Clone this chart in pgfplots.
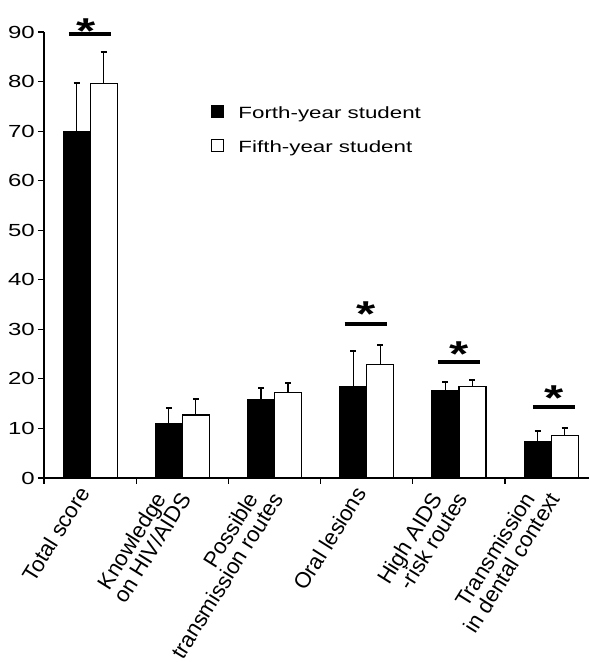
\documentclass[border=0pt]{standalone}
\usepackage{fontspec}
\setmainfont{Liberation Sans}[FakeStretch=1.37]
\newfontfamily\lblfont{Liberation Sans}
\usepackage{pgfplots}
\pgfplotsset{compat=1.18}
\begin{document}
\begin{tikzpicture}
\begin{axis}[name=ax, scale only axis, width=545bp, height=446bp,
  xmin=-0.5, xmax=5.41, ymin=0, ymax=90,
  axis x line=bottom, axis y line=left,
  axis line style={-, line width=1.3bp, black},
  clip=false,
  ytick={0,10,...,90},
  tick align=outside, major tick length=6bp, minor tick length=6bp,
  tick style={black, line width=1.2bp},
  major x tick style={draw=none},
  minor xtick={-0.5,0.5,...,4.5},
  yticklabel style={font=\fontsize{17.5bp}{18bp}\selectfont, inner sep=0pt, xshift=-3bp},
  /pgf/number format/assume math mode=true,
  xtick={0,...,5},
  xticklabels={Total score, Knowledge\hspace*{13bp}\\on HIV/AIDS, Possible\hspace*{13bp}\\transmission routes, Oral lesions, High AIDS\hspace*{13bp}\\-risk routes, Transmission\hspace*{13bp}\\in dental context},
  xticklabel style={font=\lblfont\fontsize{22bp}{21.2bp}\selectfont, align=right, anchor=east, inner sep=0pt, xshift=-6bp, yshift=-5bp, rotate=58},
  legend style={at={(0.3064,0.8363)}, anchor=north west, draw=none, fill=none, inner sep=0pt, outer sep=0pt,
    row sep=18.5bp, column sep=14bp, nodes={inner sep=0pt}, font=\fontsize{16.3bp}{18bp}\selectfont},
  legend cell align=left,
]
\addlegendimage{legend image code/.code={\draw[fill=black, draw=black, line width=1.2bp] (0bp,-4.2bp) rectangle (12bp,7.8bp);}}
\addlegendentry{Forth-year student}
\addlegendimage{legend image code/.code={\draw[fill=white, draw=black, line width=1.5bp] (0bp,-4.2bp) rectangle (12bp,7.8bp);}}
\addlegendentry{Fifth-year student}

\addplot[forget plot, ybar, bar width=27bp, bar shift=0pt, fill=black, draw=black, line width=1.2bp,
  error bars/.cd, y dir=plus, y explicit,
  error bar style={line width=1.2bp, black},
  error mark options={rotate=90, mark size=3bp, line width=2bp, black}]
  coordinates {(-0.1464,70.0) +- (0,9.7) (0.8536,10.9) +- (0,3.2) (1.8536,15.8) +- (0,2.4) (2.8536,18.4) +- (0,7.2) (3.8536,17.55) +- (0,1.85) (4.8536,7.4) +- (0,2.1)};
\addplot[forget plot, ybar, bar width=27bp, bar shift=0pt, fill=white, draw=black, line width=1.2bp,
  error bars/.cd, y dir=plus, y explicit,
  error bar style={line width=1.2bp, black},
  error mark options={rotate=90, mark size=3bp, line width=2bp, black}]
  coordinates {(0.1464,79.6) +- (0,6.3) (1.1464,12.7) +- (0,3.2) (2.1464,17.2) +- (0,1.9) (3.1464,22.9) +- (0,3.9) (4.1464,18.5) +- (0,1.3) (5.1464,8.6) +- (0,1.4)};

\addplot[forget plot, black, line width=4bp, mark=none] coordinates {(-0.23,89.5) (0.23,89.5)};
\addplot[forget plot, black, line width=4bp, mark=none] coordinates {(2.76,31.1) (3.22,31.1)};
\addplot[forget plot, black, line width=4bp, mark=none] coordinates {(3.77,23.4) (4.23,23.4)};
\addplot[forget plot, black, line width=4bp, mark=none] coordinates {(4.80,14.3) (5.26,14.3)};

\addplot[forget plot, draw=none, mark=none,
  nodes near coords={\fontsize{36bp}{36bp}\selectfont\bfseries *},
  nodes near coords align=center,
  every node near coord/.append style={anchor=base, inner sep=0pt, yshift=-20.7bp}]
  coordinates {(-0.04,91.9) (2.99,34.7) (4,26.7) (5.03,17.8)};
\end{axis}
\pgfresetboundingbox
\path[use as bounding box] ([xshift=-44bp, yshift=-184bp]ax.south west) rectangle ([yshift=32bp]ax.north east);
\end{tikzpicture}
\end{document}
